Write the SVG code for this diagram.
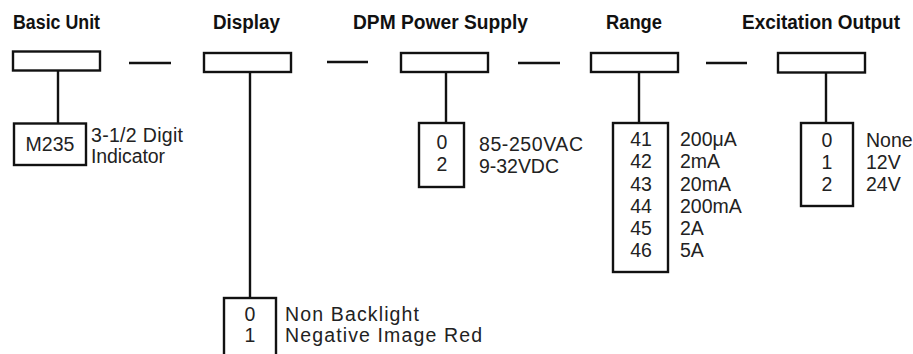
<svg xmlns="http://www.w3.org/2000/svg" width="913" height="354" viewBox="0 0 913 354">
  <style>
    .title { font-family: "Liberation Sans", Arial, sans-serif; font-weight: bold; font-size: 19.5px; fill: #111; }
    .txt { font-family: "Liberation Sans", Arial, sans-serif; font-size: 19.5px; fill: #222; }
    .num { font-family: "Liberation Sans", Arial, sans-serif; font-size: 19.5px; fill: #222; text-anchor: middle; }
    .box { fill: #fff; stroke: #111; stroke-width: 2.4; }
    .ln { stroke: #111; stroke-width: 2.4; fill: none; }
  </style>
  <rect width="913" height="354" fill="#fff"/>

  <g id="connectors">
    <line class="ln" x1="129" y1="63" x2="171" y2="63"/>
    <line class="ln" x1="327" y1="62" x2="368" y2="62"/>
    <line class="ln" x1="518" y1="63" x2="560" y2="63"/>
    <line class="ln" x1="706" y1="63" x2="747" y2="63"/>
    <line class="ln" x1="58" y1="70" x2="58" y2="123"/>
    <line class="ln" x1="250" y1="72" x2="250" y2="298"/>
    <line class="ln" x1="446" y1="72" x2="446" y2="123"/>
    <line class="ln" x1="639" y1="72" x2="639" y2="123"/>
    <line class="ln" x1="826" y1="72" x2="826" y2="123"/>
  </g>

  <g id="basic-unit">
    <text class="title" x="13" y="29" textLength="87" lengthAdjust="spacingAndGlyphs">Basic Unit</text>
    <rect class="box" x="13" y="51.5" width="87" height="19"/>
  </g>
  <g id="basic-unit-option">
    <rect class="box" x="14" y="123.5" width="72" height="41.5"/>
    <text class="num" x="50" y="151">M235</text>
    <text class="txt" x="91" y="142" textLength="92">3-1/2 Digit</text>
    <text class="txt" x="91" y="163" textLength="74">Indicator</text>
  </g>

  <g id="display">
    <text class="title" x="213" y="29" textLength="67" lengthAdjust="spacingAndGlyphs">Display</text>
    <rect class="box" x="204" y="53" width="87" height="19"/>
  </g>
  <g id="display-option">
    <rect class="box" x="224" y="298" width="52" height="70"/>
    <text class="num" x="250" y="321">0</text>
    <text class="num" x="250" y="342">1</text>
    <text class="txt" x="285" y="321" textLength="134">Non Backlight</text>
    <text class="txt" x="285" y="342" textLength="197">Negative Image Red</text>
  </g>

  <g id="dpm-power-supply">
    <text class="title" x="353" y="29" textLength="175" lengthAdjust="spacingAndGlyphs">DPM Power Supply</text>
    <rect class="box" x="401" y="53" width="87" height="19"/>
  </g>
  <g id="dpm-option">
    <rect class="box" x="419" y="123" width="45" height="64"/>
    <text class="num" x="442" y="149">0</text>
    <text class="num" x="442" y="171">2</text>
    <text class="txt" x="479" y="151" textLength="104">85-250VAC</text>
    <text class="txt" x="479" y="173" textLength="80">9-32VDC</text>
  </g>

  <g id="range">
    <text class="title" x="606" y="29" textLength="56" lengthAdjust="spacingAndGlyphs">Range</text>
    <rect class="box" x="591" y="53" width="87" height="19"/>
  </g>
  <g id="range-option">
    <rect class="box" x="613" y="123" width="55" height="149"/>
    <text class="num" x="641" y="146">41</text>
    <text class="num" x="641" y="168">42</text>
    <text class="num" x="641" y="191">43</text>
    <text class="num" x="641" y="213">44</text>
    <text class="num" x="641" y="235">45</text>
    <text class="num" x="641" y="257">46</text>
    <text class="txt" x="680" y="146">200μA</text>
    <text class="txt" x="680" y="168">2mA</text>
    <text class="txt" x="680" y="191">20mA</text>
    <text class="txt" x="680" y="213">200mA</text>
    <text class="txt" x="680" y="235">2A</text>
    <text class="txt" x="680" y="257">5A</text>
  </g>

  <g id="excitation-output">
    <text class="title" x="742" y="29" textLength="158" lengthAdjust="spacingAndGlyphs">Excitation Output</text>
    <rect class="box" x="778" y="53" width="87" height="19.5"/>
  </g>
  <g id="excitation-option">
    <rect class="box" x="801" y="123" width="52" height="83"/>
    <text class="num" x="827" y="147">0</text>
    <text class="num" x="827" y="169">1</text>
    <text class="num" x="827" y="191">2</text>
    <text class="txt" x="866" y="147">None</text>
    <text class="txt" x="866" y="169">12V</text>
    <text class="txt" x="866" y="191">24V</text>
  </g>
</svg>
